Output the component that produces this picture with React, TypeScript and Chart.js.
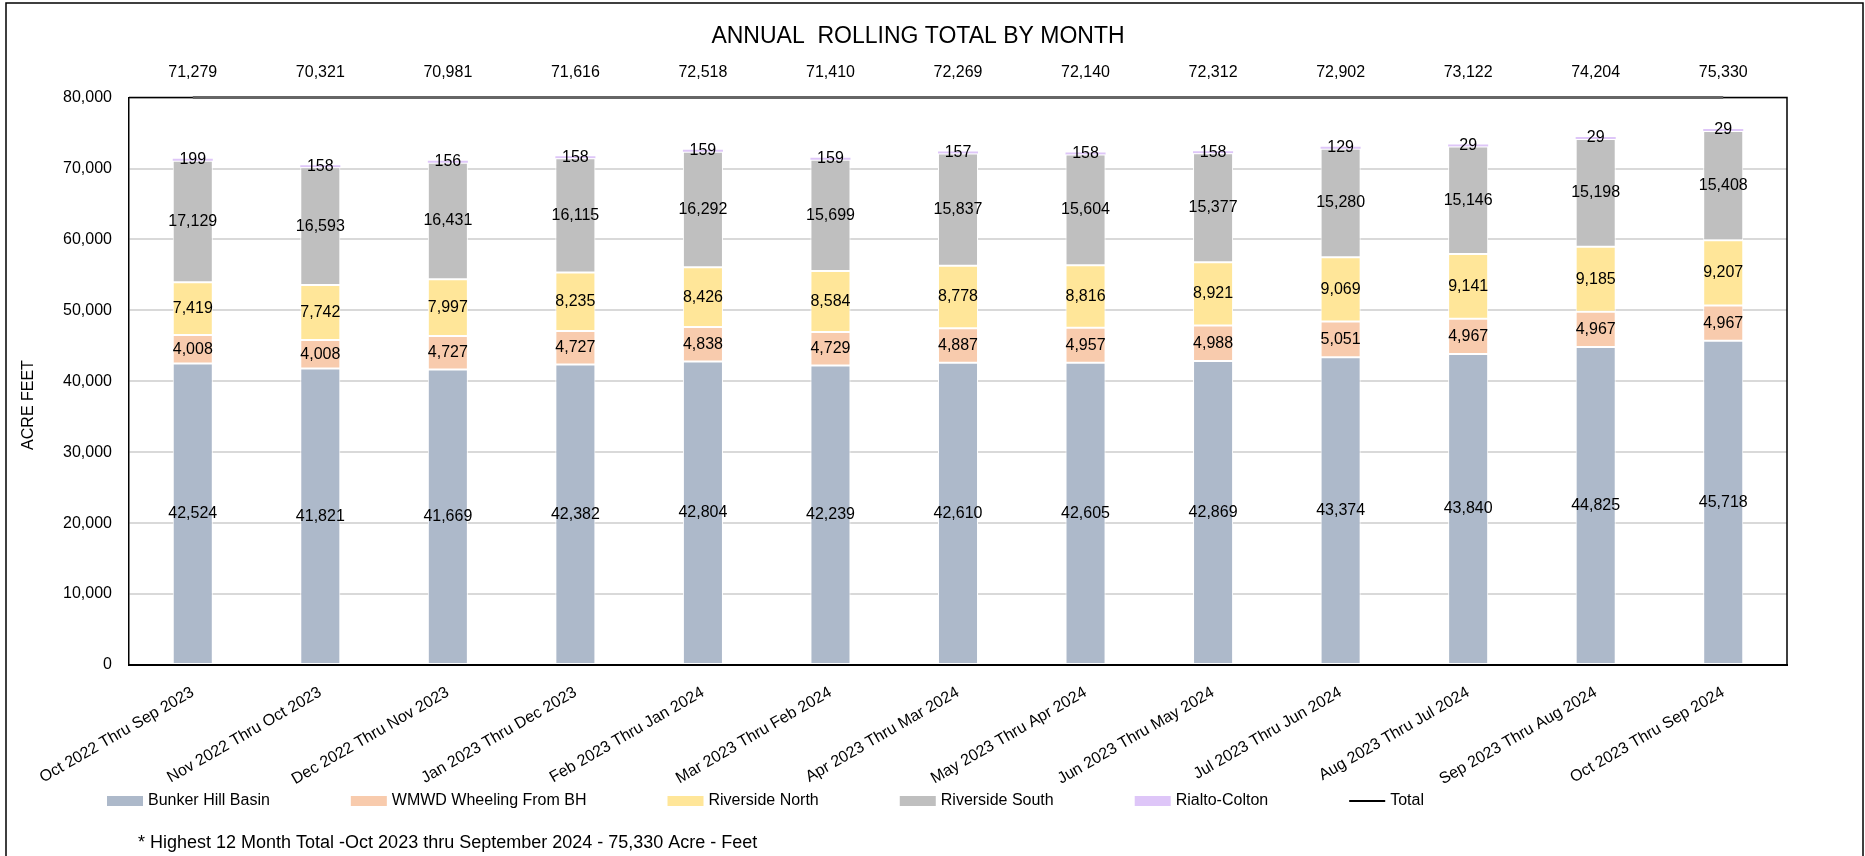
import React, { useEffect, useRef } from "react";
import { Chart, registerables } from "chart.js";

Chart.register(...registerables);

const FONT = "'Liberation Sans', Arial, sans-serif";

const categories = [
  "Oct 2022 Thru Sep 2023",
  "Nov 2022 Thru Oct 2023",
  "Dec 2022 Thru Nov 2023",
  "Jan 2023 Thru Dec 2023",
  "Feb 2023 Thru Jan 2024",
  "Mar 2023 Thru Feb 2024",
  "Apr 2023 Thru Mar 2024",
  "May 2023 Thru Apr 2024",
  "Jun 2023 Thru May 2024",
  "Jul 2023 Thru Jun 2024",
  "Aug 2023 Thru Jul 2024",
  "Sep 2023 Thru Aug 2024",
  "Oct 2023 Thru Sep 2024",
];

const bunkerHillBasin = [42524, 41821, 41669, 42382, 42804, 42239, 42610, 42605, 42869, 43374, 43840, 44825, 45718];
const wmwdWheeling = [4008, 4008, 4727, 4727, 4838, 4729, 4887, 4957, 4988, 5051, 4967, 4967, 4967];
const riversideNorth = [7419, 7742, 7997, 8235, 8426, 8584, 8778, 8816, 8921, 9069, 9141, 9185, 9207];
const riversideSouth = [17129, 16593, 16431, 16115, 16292, 15699, 15837, 15604, 15377, 15280, 15146, 15198, 15408];
const rialtoColton = [199, 158, 156, 158, 159, 159, 157, 158, 158, 129, 29, 29, 29];
const totals = [71279, 70321, 70981, 71616, 72518, 71410, 72269, 72140, 72312, 72902, 73122, 74204, 75330];

const yMin = 0;
const yMax = 80000;
const yStep = 10000;

const chartTitle = "ANNUAL  ROLLING TOTAL BY MONTH";
const yAxisTitle = "ACRE FEET";
const footnote = "* Highest 12 Month Total -Oct 2023 thru September 2024 - 75,330 Acre - Feet";

const fmt = (v: number) => v.toLocaleString("en-US");

const framePlugin = {
  id: "frame",
  beforeDraw(chart: any) {
    const ctx = chart.ctx;
    ctx.save();
    ctx.fillStyle = "#fff";
    ctx.fillRect(0, 0, chart.width, chart.height);
    ctx.strokeStyle = "#000";
    ctx.lineWidth = 1.5;
    ctx.strokeRect(6, 3, chart.width - 8, chart.height + 10);
    ctx.restore();
  },
};

const plotBorderPlugin = {
  id: "plotBorder",
  beforeDatasetsDraw(chart: any) {
    const { ctx, chartArea } = chart;
    ctx.save();
    ctx.strokeStyle = "#000";
    ctx.lineWidth = 1.5;
    ctx.beginPath();
    ctx.moveTo(chartArea.left, chartArea.top);
    ctx.lineTo(chartArea.right, chartArea.top);
    ctx.lineTo(chartArea.right, chartArea.bottom);
    ctx.stroke();
    ctx.restore();
  },
};

// Excel clips the secondary-axis Total line to the plot edge
const clampPlugin = {
  id: "clampTotal",
  afterDatasetsUpdate(chart: any) {
    const top = chart.chartArea.top;
    chart.data.datasets.forEach((ds: any, i: number) => {
      if (ds.type !== "line") return;
      const meta = chart.getDatasetMeta(i);
      meta.data.forEach((p: any) => {
        if (p.y < top) p.y = top;
      });
      if (meta.dataset) meta.dataset._path = undefined;
    });
  },
};

const valueLabelPlugin = {
  id: "valueLabels",
  afterDatasetsDraw(chart: any) {
    const { ctx, chartArea } = chart;
    ctx.save();
    ctx.fillStyle = "#000";
    ctx.font = `16px ${FONT}`;
    ctx.textAlign = "center";
    ctx.textBaseline = "middle";
    chart.data.datasets.forEach((ds: any, i: number) => {
      const meta = chart.getDatasetMeta(i);
      meta.data.forEach((el: any, j: number) => {
        const v = ds.data[j];
        if (ds.type === "line") {
          ctx.fillText(fmt(v), el.x, chartArea.top - 25);
        } else {
          ctx.fillText(fmt(v), el.x, (el.y + el.base) / 2);
        }
      });
    });
    ctx.restore();
  },
};

const decorPlugin = {
  id: "decor",
  afterDraw(chart: any) {
    const { ctx } = chart;
    ctx.save();
    ctx.fillStyle = "#000";
    // y-axis title
    ctx.font = `16px ${FONT}`;
    ctx.textAlign = "center";
    ctx.textBaseline = "middle";
    ctx.save();
    ctx.translate(29, 405);
    ctx.rotate(-Math.PI / 2);
    ctx.fillText(yAxisTitle, 0, 0);
    ctx.restore();

    // legend
    ctx.textAlign = "left";
    let x = 107;
    const y = 801;
    chart.data.datasets.forEach((ds: any) => {
      if (ds.type === "line") {
        ctx.strokeStyle = "#000";
        ctx.lineWidth = 2;
        ctx.beginPath();
        ctx.moveTo(x, y);
        ctx.lineTo(x + 36, y);
        ctx.stroke();
      } else {
        ctx.fillStyle = ds.backgroundColor;
        ctx.fillRect(x, y - 5, 36, 10);
      }
      ctx.fillStyle = "#000";
      ctx.fillText(ds.label, x + 41, y);
      x += 41 + ctx.measureText(ds.label).width + 81;
    });

    // footnote
    ctx.font = `18px ${FONT}`;
    ctx.fillText(footnote, 138, 843);
    ctx.restore();
  },
};

const barDataset = (label: string, data: number[], color: string, extra: any = {}) => ({
  type: "bar" as const,
  label,
  data,
  backgroundColor: color,
  borderColor: "#ffffff",
  borderWidth: 1,
  borderSkipped: false,
  stack: "s",
  yAxisID: "y",
  barPercentage: 0.314,
  categoryPercentage: 1,
  ...extra,
});

export default function App() {
  const canvasRef = useRef<HTMLCanvasElement | null>(null);

  useEffect(() => {
    document.body.style.margin = "0";
    const canvas = canvasRef.current;
    if (!canvas) return;
    Chart.defaults.font.family = FONT;
    Chart.defaults.color = "#000";

    const chart = new Chart(canvas, {
      data: {
        labels: categories,
        datasets: [
          barDataset("Bunker Hill Basin", bunkerHillBasin, "#ADB9CA"),
          barDataset("WMWD Wheeling From BH", wmwdWheeling, "#F8CBAD"),
          barDataset("Riverside North", riversideNorth, "#FFE699"),
          barDataset("Riverside South", riversideSouth, "#BFBFBF"),
          barDataset("Rialto-Colton", rialtoColton, "#DEC6F8", { borderWidth: 0, minBarLength: 2 }),
          {
            type: "line" as const,
            label: "Total",
            data: totals,
            borderColor: "#666666",
            backgroundColor: "#000",
            borderWidth: 3,
            pointRadius: 0,
            tension: 0,
            fill: false,
            yAxisID: "y2",
            clip: false as any,
            order: -1,
          },
        ] as any,
      },
      options: {
        responsive: false,
        animation: false,
        layout: { padding: { left: 49, right: 78, top: 0, bottom: 61 } },
        plugins: {
          legend: { display: false },
          tooltip: { enabled: false },
          title: {
            display: true,
            text: chartTitle,
            color: "#000",
            font: { family: FONT, size: 23, weight: "normal" as any },
            padding: { top: 23, bottom: 47 },
          },
        },
        scales: {
          x: {
            stacked: true,
            offset: true,
            grid: { display: false, drawTicks: false },
            border: { display: true, color: "#000", width: 2 },
            ticks: {
              autoSkip: false,
              minRotation: 30,
              maxRotation: 30,
              padding: 18,
              color: "#000",
              font: { family: FONT, size: 16 },
            },
            afterFit(scale: any) {
              scale.height = 130;
              scale.paddingLeft = 0;
              scale.paddingRight = 0;
            },
          },
          y: {
            stacked: true,
            min: yMin,
            max: yMax,
            ticks: {
              stepSize: yStep,
              padding: 17,
              color: "#000",
              font: { family: FONT, size: 16 },
              callback: (v: any) => fmt(Number(v)),
            },
            grid: { color: "#D9D9D9", lineWidth: 2, drawTicks: false },
            border: { display: true, color: "#000", width: 1.5 },
            afterFit(scale: any) {
              scale.width = 80;
              scale.paddingTop = 0;
              scale.paddingBottom = 0;
            },
          },
          y2: {
            display: false,
            stacked: false,
            min: 0,
            max: 70000,
          },
        },
      } as any,
      plugins: [framePlugin, plotBorderPlugin, clampPlugin, valueLabelPlugin, decorPlugin],
    });

    return () => chart.destroy();
  }, []);

  return (
    <div style={{ width: 1865, height: 856 }}>
      <canvas ref={canvasRef} width={1865} height={856} />
    </div>
  );
}
